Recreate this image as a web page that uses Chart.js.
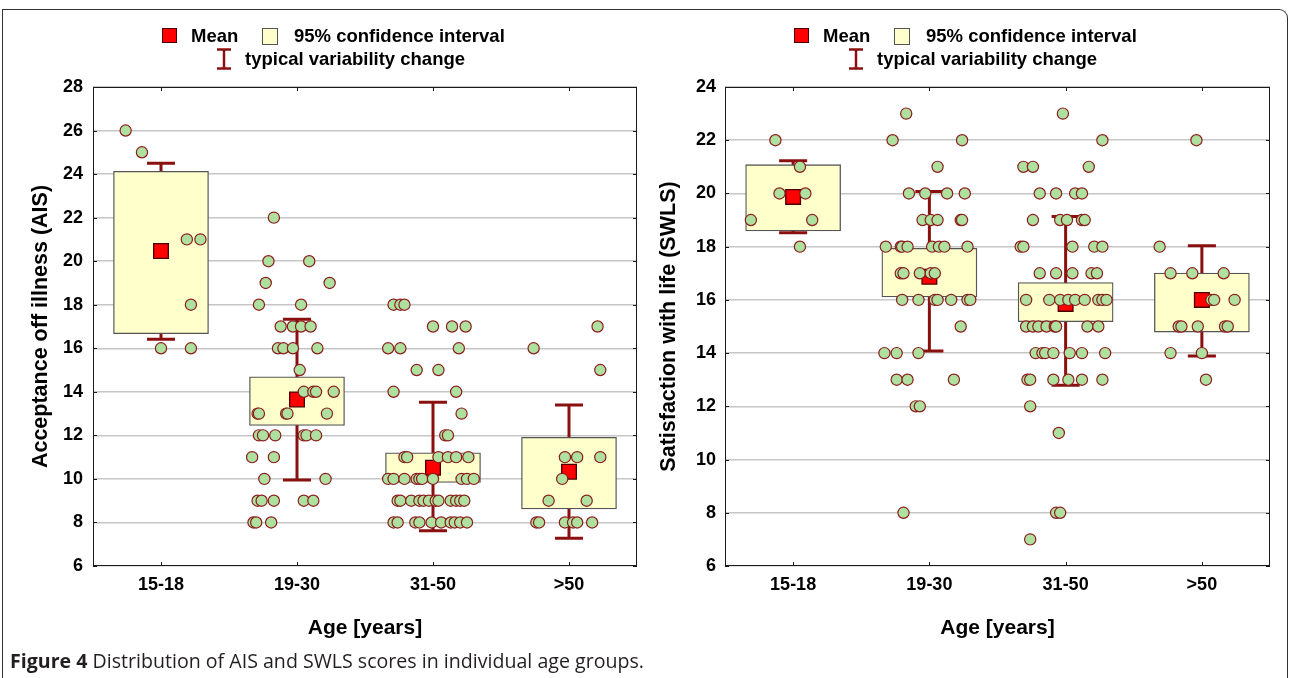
<!DOCTYPE html>
<html>
<head>
<meta charset="utf-8">
<script src="https://cdn.jsdelivr.net/npm/chart.js@4/dist/chart.umd.min.js"></script>
<style>
html,body{margin:0;padding:0;background:#fff;width:1289px;height:678px;overflow:hidden;font-family:"Liberation Sans",Arial,sans-serif;}
#frame{position:absolute;left:2px;top:9px;width:1286px;height:720px;border-top:1.5px solid #333;border-left:1.5px solid #333;border-right:1.5px solid #333;border-top-right-radius:9px;box-sizing:border-box;}
canvas.cv{position:absolute;top:0;}
.lg{position:absolute;font-weight:bold;font-size:18.5px;line-height:20px;color:#000;white-space:nowrap;}
.sw{position:absolute;box-sizing:border-box;}
#caption{position:absolute;left:10px;top:650px;font-family:"Open Sans","Noto Sans",sans-serif;font-size:19.6px;line-height:22px;color:#231f20;white-space:nowrap;}
#caption b{font-weight:bold;}
</style>
</head>
<body>
<div id="frame"></div>
<canvas id="cAis" class="cv" width="645" height="650" style="left:0px"></canvas>
<canvas id="cSwls" class="cv" width="645" height="650" style="left:632px"></canvas>
<div id="legends"></div>
<div id="caption"><b>Figure 4</b> Distribution of AIS and SWLS scores in individual age groups.</div>
<script>
// ---------------- data ----------------
const categories = ['15-18', '19-30', '31-50', '>50'];
const legendLabels = ['Mean', '95% confidence interval', 'typical variability change'];
const xTitle = 'Age [years]';
const aisTitle = 'Acceptance off illness (AIS)';
const swlsTitle = 'Satisfaction with life (SWLS)';
const aisTicks = [6, 8, 10, 12, 14, 16, 18, 20, 22, 24, 26, 28];
const swlsTicks = [6, 8, 10, 12, 14, 16, 18, 20, 22, 24];

// AIS summary per age group
const aisMean = [20.47, 13.65, 10.51, 10.33];
const aisCiLow = [16.67, 12.46, 9.84, 8.62];
const aisCiHigh = [24.13, 14.69, 11.20, 11.91];
const aisVarLow = [16.41, 9.95, 7.62, 7.27];
const aisVarHigh = [24.50, 17.33, 13.52, 13.39];

// SWLS summary per age group
const swlsMean = [19.87, 16.87, 15.85, 16.00];
const swlsCiLow = [18.59, 16.11, 15.18, 14.79];
const swlsCiHigh = [21.08, 17.94, 16.65, 17.01];
const swlsVarLow = [18.52, 14.08, 12.79, 13.89];
const swlsVarHigh = [21.23, 20.07, 19.13, 18.03];

// individual scores: [score, [horizontal jitter of each point, in category units]]
const aisPts1518 = [[26,[-0.26]],[25,[-0.14]],[21,[0.19,0.29]],[18,[0.22]],[16,[0.00,0.22]]];
const aisPts1930 = [[22,[-0.17]],[20,[-0.21,0.09]],[19,[-0.23,0.24]],[18,[-0.28,0.03]],[17,[-0.12,-0.03,0.03,0.10]],[16,[-0.14,-0.10,-0.03,0.15]],[15,[0.02]],[14,[0.05,0.12,0.14,0.27]],[13,[-0.29,-0.28,-0.08,-0.07,0.22]],[12,[-0.28,-0.25,-0.16,0.05,0.07,0.14]],[11,[-0.33,-0.17]],[10,[-0.24,0.21]],[9,[-0.29,-0.26,-0.17,0.05,0.12]],[8,[-0.32,-0.30,-0.19]]];
const aisPts3150 = [[18,[-0.29,-0.24,-0.21]],[17,[0.00,0.14,0.24]],[16,[-0.33,-0.24,0.19]],[15,[-0.12,0.04]],[14,[-0.29,0.17]],[13,[0.21]],[12,[0.09,0.11]],[11,[-0.21,-0.19,0.04,0.11,0.17,0.26]],[10,[-0.33,-0.29,-0.21,-0.12,-0.10,-0.08,0.00,0.21,0.25,0.30]],[9,[-0.26,-0.24,-0.16,-0.10,-0.07,-0.03,0.02,0.04,0.13,0.17,0.20,0.23]],[8,[-0.29,-0.26,-0.13,-0.10,-0.01,0.06,0.13,0.16,0.20,0.25]]];
const aisPts50 = [[17,[0.21]],[16,[-0.26]],[15,[0.23]],[11,[-0.03,0.06,0.23]],[10,[-0.05]],[9,[-0.15,0.13]],[8,[-0.24,-0.22,-0.03,0.03,0.06,0.17]]];

const swlsPts1518 = [[22,[-0.13]],[21,[0.05]],[20,[-0.10,0.09]],[19,[-0.31,0.14]],[18,[0.05]]];
const swlsPts1930 = [[23,[-0.17]],[22,[-0.27,0.24]],[21,[0.06]],[20,[-0.15,-0.03,0.13,0.26]],[19,[-0.05,0.01,0.06,0.23,0.24]],[18,[-0.32,-0.21,-0.20,-0.16,0.02,0.07,0.11,0.28]],[17,[-0.21,-0.19,-0.07,0.01,0.04]],[16,[-0.20,-0.08,0.04,0.06,0.16,0.28,0.30]],[15,[0.23]],[14,[-0.33,-0.24,-0.08]],[13,[-0.24,-0.16,0.18]],[12,[-0.10,-0.07]],[8,[-0.19]]];
const swlsPts3150 = [[23,[-0.02]],[22,[0.27]],[21,[-0.31,-0.24,0.17]],[20,[-0.19,-0.07,0.07,0.12]],[19,[-0.24,-0.04,0.01,0.12,0.14]],[18,[-0.33,-0.31,0.05,0.21,0.27]],[17,[-0.19,-0.07,0.05,0.19,0.23]],[16,[-0.29,-0.12,-0.04,0.02,0.07,0.14,0.24,0.27,0.30]],[15,[-0.29,-0.24,-0.20,-0.14,-0.08,-0.07,0.16,0.24]],[14,[-0.22,-0.17,-0.15,-0.09,0.03,0.12,0.29]],[13,[-0.28,-0.26,-0.09,0.02,0.12,0.27]],[12,[-0.26]],[11,[-0.05]],[8,[-0.07,-0.04]],[7,[-0.26]]];
const swlsPts50 = [[22,[-0.04]],[18,[-0.31]],[17,[-0.23,-0.07,0.16]],[16,[0.07,0.09,0.24]],[15,[-0.17,-0.15,-0.03,0.17,0.19]],[14,[-0.23,0.00]],[13,[0.03]]];

// ---------------- styles ----------------
const FONT = "'Liberation Sans', Arial, Helvetica, sans-serif";
const C_POINT = '#aee0a0', C_POINT_B = '#8c1c1c';
const C_MEAN = '#ff0000', C_MEAN_B = '#4a0000';
const C_BOX = '#ffffcc', C_BOX_B = '#555555';
const C_WHISK = '#8a1010';
const CAP = 0.103;      // half width of whisker caps (category units)
const BOX_PX = 95;      // box width in px

Chart.defaults.font.family = FONT;
Chart.defaults.color = '#000';

const framePlugin = {
  id: 'frameTicks',
  afterDatasetsDraw(chart) {
    const {ctx, chartArea: a, scales} = chart;
    const x = scales.x, y = scales.y;
    ctx.save();
    ctx.strokeStyle = '#1a1a1a';
    ctx.lineWidth = 1;
    ctx.strokeRect(Math.round(a.left) + 0.5, Math.round(a.top) + 0.5,
                   Math.round(a.right - a.left) - 1, Math.round(a.bottom - a.top) - 1);
    ctx.beginPath();
    y.ticks.forEach(t => {
      const py = Math.round(y.getPixelForValue(t.value)) + 0.5;
      ctx.moveTo(a.left, py); ctx.lineTo(a.left + 4, py);
      ctx.moveTo(a.right, py); ctx.lineTo(a.right - 4, py);
    });
    x.ticks.forEach(t => {
      const px = Math.round(x.getPixelForValue(t.value)) + 0.5;
      ctx.moveTo(px, a.top); ctx.lineTo(px, a.top + 4);
      ctx.moveTo(px, a.bottom); ctx.lineTo(px, a.bottom - 4);
    });
    ctx.stroke();
    ctx.restore();
  }
};

function buildChart(id, cfg) {
  const pts = [];
  cfg.points.forEach((grp, i) => grp.forEach(([v, js]) => js.forEach(j => pts.push({x: i + j, y: v}))));
  const whisk = [];
  categories.forEach((c, i) => {
    const lo = cfg.vLo[i], hi = cfg.vHi[i];
    whisk.push({x: i, y: lo}, {x: i, y: hi}, {x: i, y: null},
               {x: i - CAP, y: hi}, {x: i + CAP, y: hi}, {x: i, y: null},
               {x: i - CAP, y: lo}, {x: i + CAP, y: lo}, {x: i, y: null});
  });
  return new Chart(document.getElementById(id), {
    type: 'scatter',
    data: {
      datasets: [
        {type: 'scatter', label: 'scores', data: pts, order: 0,
         pointRadius: 5.6, pointHoverRadius: 5.6, backgroundColor: C_POINT, borderColor: C_POINT_B, borderWidth: 1.2},
        {type: 'scatter', label: legendLabels[0], data: categories.map((c, i) => ({x: i, y: cfg.mean[i]})), order: 1,
         pointStyle: 'rect', pointRadius: 10.4, pointHoverRadius: 10.4, backgroundColor: C_MEAN, borderColor: C_MEAN_B, borderWidth: 1.3},
        {type: 'bar', label: legendLabels[1], data: categories.map((c, i) => ({x: i, y: [cfg.ciLo[i], cfg.ciHi[i]]})), order: 2,
         barThickness: BOX_PX, backgroundColor: C_BOX, borderColor: C_BOX_B, borderWidth: 1.3, borderSkipped: false},
        {type: 'line', label: legendLabels[2], data: whisk, order: 3, showLine: true, spanGaps: false,
         borderColor: C_WHISK, borderWidth: 3, pointRadius: 0, pointHoverRadius: 0, fill: false, borderCapStyle: 'butt'}
      ]
    },
    options: {
      responsive: false, animation: false, devicePixelRatio: 1, events: [],
      layout: {autoPadding: false, padding: {top: 87, right: cfg.padRight, left: 0, bottom: 0}},
      plugins: {legend: {display: false}, tooltip: {enabled: false}},
      scales: {
        x: {
          type: 'linear', min: -0.5, max: 3.5, offset: false,
          afterBuildTicks: s => { s.ticks = categories.map((c, i) => ({value: i})); },
          afterFit: s => { s.height = 84; },
          ticks: {callback: v => categories[v], font: {size: 18, weight: 'bold'}, color: '#000', padding: 8, autoSkip: false, maxRotation: 0},
          grid: {display: false, drawTicks: false, offset: false},
          border: {display: false},
          title: {display: true, text: xTitle, font: {size: 21, weight: 'bold'}, color: '#000', padding: {top: 0, bottom: 9}}
        },
        y: {
          type: 'linear', min: cfg.ticks[0], max: cfg.ticks[cfg.ticks.length - 1],
          afterBuildTicks: s => { s.ticks = cfg.ticks.map(v => ({value: v})); },
          afterFit: s => { s.width = 93; },
          ticks: {font: {size: 18, weight: 'bold'}, color: '#000', padding: cfg.tickPad},
          grid: {color: '#c6c6c6', lineWidth: 1.5, drawTicks: false},
          border: {display: false},
          title: {display: true, text: cfg.title, font: {size: 21.5, weight: 'bold'}, color: '#000', padding: {top: cfg.titleX - 12.9, bottom: 0}}
        }
      }
    },
    plugins: [framePlugin]
  });
}

buildChart('cAis', {
  points: [aisPts1518, aisPts1930, aisPts3150, aisPts50],
  mean: aisMean, ciLo: aisCiLow, ciHi: aisCiHigh, vLo: aisVarLow, vHi: aisVarHigh,
  ticks: aisTicks, title: aisTitle, titleX: 41, tickPad: 10, padRight: 8
});
buildChart('cSwls', {
  points: [swlsPts1518, swlsPts1930, swlsPts3150, swlsPts50],
  mean: swlsMean, ciLo: swlsCiLow, ciHi: swlsCiHigh, vLo: swlsVarLow, vHi: swlsVarHigh,
  ticks: swlsTicks, title: swlsTitle, titleX: 37, tickPad: 9, padRight: 7
});

// ---------------- legends (HTML, real text) ----------------
function addLegend(dx) {
  const host = document.getElementById('legends');
  const mk = (cls, css, html) => { const d = document.createElement('div'); d.className = cls; d.style.cssText = css; if (html !== undefined) d.textContent = html; host.appendChild(d); return d; };
  mk('sw', `left:${162 + dx}px;top:28px;width:15px;height:15px;background:${C_MEAN};border:1.3px solid ${C_MEAN_B};`);
  mk('lg', `left:${191 + dx}px;top:26px;`, legendLabels[0]);
  mk('sw', `left:${262 + dx}px;top:28px;width:16px;height:17px;background:${C_BOX};border:1.3px solid ${C_BOX_B};`);
  mk('lg', `left:${294 + dx}px;top:26px;`, legendLabels[1]);
  const ic = mk('sw', `left:${216 + dx}px;top:48px;width:16px;height:22px;`);
  ic.innerHTML = `<svg width="16" height="22" xmlns="http://www.w3.org/2000/svg"><g stroke="${C_WHISK}" stroke-width="2.5" fill="none"><line x1="1" y1="1.5" x2="15" y2="1.5"/><line x1="8" y1="1.5" x2="8" y2="20.5"/><line x1="1" y1="20.5" x2="15" y2="20.5"/></g></svg>`;
  mk('lg', `left:${245 + dx}px;top:49px;`, legendLabels[2]);
}
addLegend(0);
addLegend(632);
</script>
</body>
</html>
